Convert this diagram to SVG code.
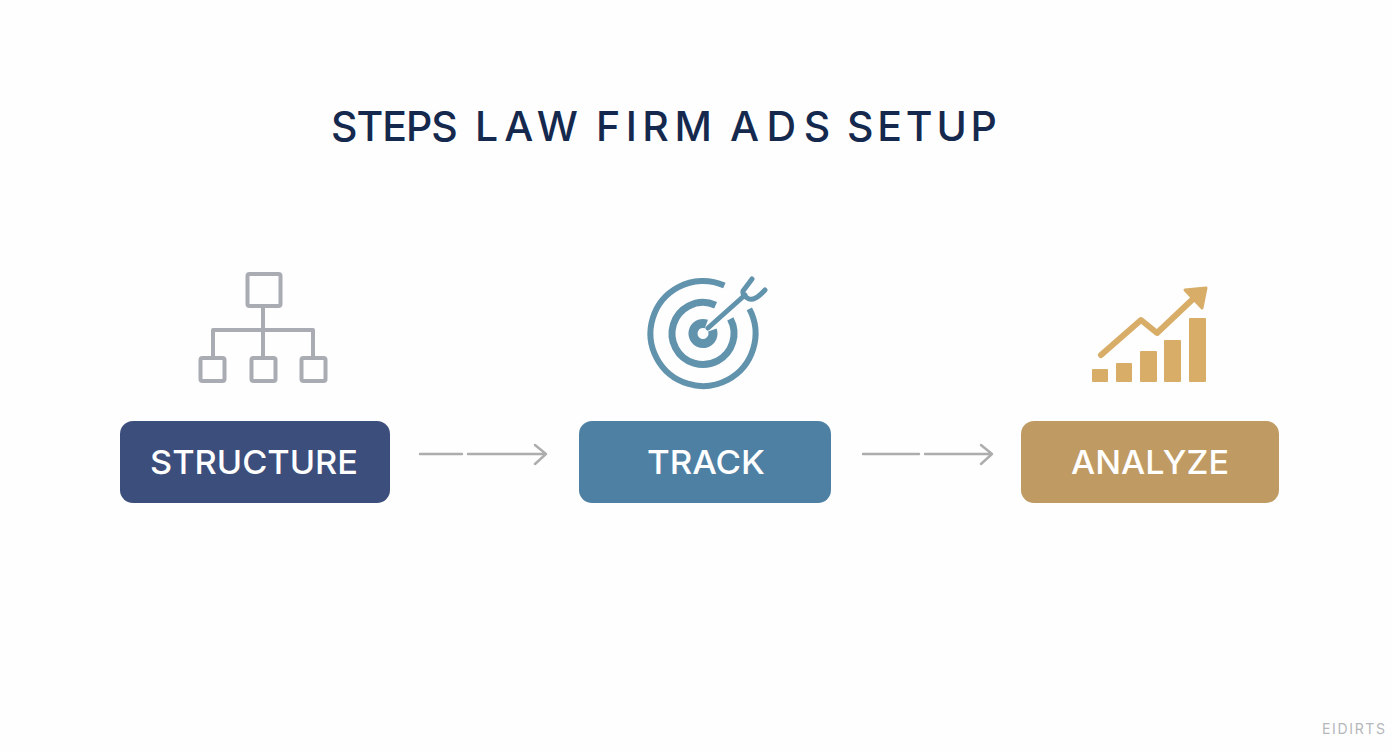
<svg xmlns="http://www.w3.org/2000/svg" width="1392" height="752" viewBox="0 0 1392 752">
<style>
text{font-family:Inter,"Liberation Sans",sans-serif}
.lbl{fill:#fff;font-size:33px;font-weight:500}
.gray{fill:none;stroke:#a9acb2;stroke-width:4;stroke-linejoin:round;stroke-linecap:round}
.conn{fill:none;stroke:#adadad;stroke-width:2.4;stroke-linecap:round;stroke-linejoin:round}
.ring{fill:none;stroke:#6293ad}
.gold{fill:#d8ad68}
</style>
<rect width="1392" height="752" fill="#fefefe"/>
<g id="title"><text y="141" fill="#15294f" font-weight="500" style="font-size:41px"><tspan x="331" letter-spacing="-1">STEPS </tspan><tspan x="475" letter-spacing="6">LAW </tspan><tspan x="596" letter-spacing="5.500">FIRM </tspan><tspan x="730" letter-spacing="7.500">ADS </tspan><tspan x="847" letter-spacing="3.800">SETUP</tspan></text></g>
<g id="structure-icon">
<rect class="gray" x="247.500" y="274" width="33" height="32" rx="2"/>
<rect class="gray" x="200.500" y="358" width="24" height="23" rx="2"/>
<rect class="gray" x="251.500" y="358" width="24" height="23" rx="2"/>
<rect class="gray" x="301.500" y="358" width="24" height="23" rx="2"/>
<path class="gray" d="M263 306V357M213 357V330H313V357"/>
</g>
<g id="track-icon">
<circle class="ring" cx="703" cy="333.500" r="52.500" stroke-width="6" pathLength="360" stroke-dasharray="322 38" transform="rotate(-28 703 333.500)"/>
<circle class="ring" cx="703" cy="333.500" r="31" stroke-width="7" pathLength="360" stroke-dasharray="322 38" transform="rotate(-28 703 333.500)"/>
<circle class="ring" cx="703" cy="333.500" r="10" stroke-width="9" pathLength="360" stroke-dasharray="310 50" transform="rotate(-20 703 333.500)"/>
<path fill="none" stroke="#6293ad" stroke-width="5" stroke-linecap="round" stroke-linejoin="round" d="M708 328L745 295M752 279L743 291Q742 296 749 299Q755 301 765 290"/>
</g>
<g id="analyze-icon">
<rect class="gold" x="1092" y="369" width="16" height="13" rx="1"/>
<rect class="gold" x="1116" y="363" width="16" height="19" rx="1"/>
<rect class="gold" x="1140" y="351" width="17" height="31" rx="1"/>
<rect class="gold" x="1164" y="340" width="17" height="42" rx="1"/>
<rect class="gold" x="1189" y="318" width="17" height="64" rx="1"/>
<path fill="none" stroke="#d8ad68" stroke-width="6" stroke-linecap="round" stroke-linejoin="round" d="M1101 355L1141 320L1157 333L1194 298"/>
<path class="gold" stroke="#d8ad68" stroke-width="3" stroke-linejoin="round" d="M1185 290L1206 288L1202 308Z"/>
</g>
<g id="connectors">
<path class="conn" d="M420 454H462M468 454H546M535 445L546 454L535 464"/>
<path class="conn" d="M863 454H919M925 454H992M981 445L992 454L981 464"/>
</g>
<g id="node-structure"><rect x="120" y="421" width="270" height="82" rx="13" fill="#3c4e7c"/><text class="lbl" x="150" y="474" textLength="208" lengthAdjust="spacingAndGlyphs">STRUCTURE</text></g>
<g id="node-track"><rect x="579" y="421" width="252" height="82" rx="13" fill="#4e80a4"/><text class="lbl" x="647" y="474" textLength="118" lengthAdjust="spacingAndGlyphs">TRACK</text></g>
<g id="node-analyze"><rect x="1021" y="421" width="258" height="82" rx="13" fill="#bf9b63"/><text class="lbl" x="1071" y="474" textLength="158" lengthAdjust="spacingAndGlyphs">ANALYZE</text></g>
<g id="watermark"><text x="1322" y="734" fill="#b5b7ba" textLength="63" style="font-size:14px">EIDIRTS</text></g>
</svg>
